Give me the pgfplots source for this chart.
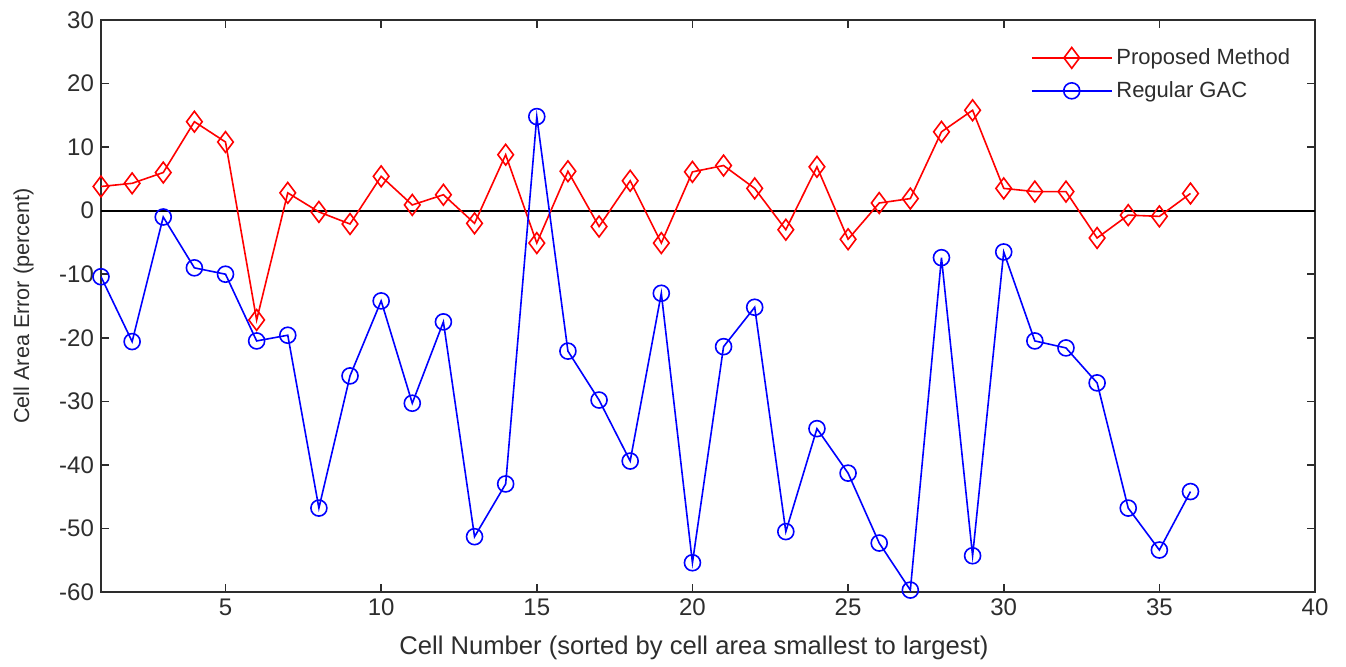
\documentclass[border=0pt]{standalone}
\usepackage{fontspec}
\setmainfont{Liberation Sans}
\usepackage{pgfplots}
\pgfplotsset{compat=1.18}
\definecolor{txt}{RGB}{45,45,45}

\begin{document}
\begin{tikzpicture}
\begin{axis}[
    scale only axis,
    width=607pt, height=286pt,
    xmin=1, xmax=40, ymin=-60, ymax=30,
    xtick={5,10,...,40},
    ytick={-60,-50,...,30},
    tick align=inside,
    major tick length=4pt,
    axis line style={txt, line width=0.8pt},
    every tick/.style={txt, line width=0.8pt},
    tick label style={font=\fontsize{12}{14}\selectfont, text=txt},
    /pgf/number format/assume math mode=true,
    xlabel={Cell Number (sorted by cell area smallest to largest)},
    ylabel={Cell Area Error (percent)},
    xlabel style={font=\fontsize{12.8}{14}\selectfont, text=txt, yshift=-3pt, xshift=-7pt},
    ylabel style={font=\fontsize{10.8}{12}\selectfont, text=txt, yshift=6pt},
    legend style={draw=none, fill=none, font=\fontsize{11}{13}\selectfont, text=txt,
        at={(0.988,0.965)}, anchor=north east, row sep=3pt},
    legend cell align=left,
    legend image code/.code={
        \draw[mark repeat=2, mark phase=2] plot coordinates {(0cm,0cm) (0.7cm,0cm) (1.4cm,0cm)};
    },
]
\addplot[black, line width=1pt, forget plot] coordinates {(1,0) (40,0)};

\addplot[red, line width=0.8pt, mark=diamond, mark size=5.2pt, mark options={solid}] coordinates {
(1,3.8) (2,4.3) (3,6.0) (4,14.0) (5,10.8) (6,-17.2) (7,2.8) (8,-0.2) (9,-2.1)
(10,5.4) (11,0.9) (12,2.5) (13,-2.0) (14,8.8) (15,-5.1) (16,6.2) (17,-2.5)
(18,4.7) (19,-5.1) (20,6.1) (21,7.1) (22,3.5) (23,-3.0) (24,6.9) (25,-4.5)
(26,1.2) (27,1.9) (28,12.4) (29,15.8) (30,3.5) (31,3.0) (32,3.0) (33,-4.3)
(34,-0.7) (35,-0.9) (36,2.7)
};
\addlegendentry{Proposed Method}

\addplot[blue, line width=0.8pt, mark=o, mark size=4pt, mark options={solid}] coordinates {
(1,-10.4) (2,-20.6) (3,-1.0) (4,-9.0) (5,-10.0) (6,-20.5) (7,-19.6) (8,-46.8)
(9,-26.0) (10,-14.2) (11,-30.3) (12,-17.5) (13,-51.3) (14,-43.0) (15,14.8)
(16,-22.1) (17,-29.8) (18,-39.4) (19,-13.0) (20,-55.4) (21,-21.4) (22,-15.2)
(23,-50.5) (24,-34.3) (25,-41.3) (26,-52.3) (27,-59.7) (28,-7.4) (29,-54.3)
(30,-6.5) (31,-20.5) (32,-21.6) (33,-27.1) (34,-46.8) (35,-53.4) (36,-44.2)
};
\addlegendentry{Regular GAC}
\end{axis}
\path ([shift={(-50.5pt,-37pt)}]current axis.south west) rectangle ([shift={(15.5pt,10pt)}]current axis.north east);
\end{tikzpicture}
\end{document}
